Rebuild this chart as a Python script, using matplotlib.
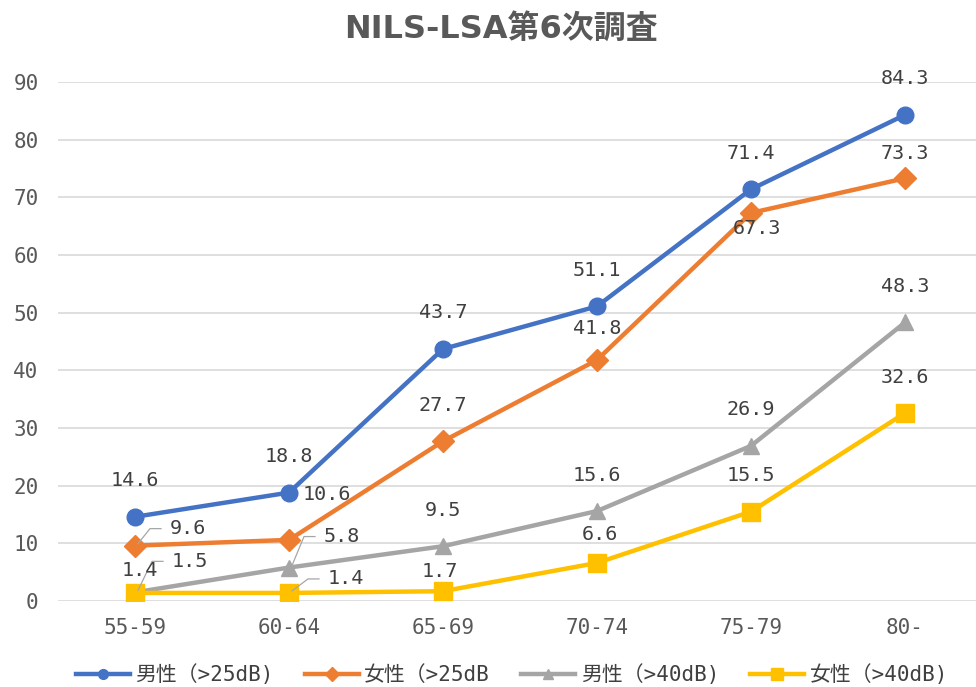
import matplotlib
matplotlib.use("Agg")
import matplotlib.pyplot as plt
import matplotlib.transforms as mtransforms
from matplotlib.lines import Line2D

plt.rcParams['font.family'] = ['DejaVu Sans Mono', 'Noto Sans CJK JP']

title = "NILS-LSA第6次調査"
categories = ["55-59", "60-64", "65-69", "70-74", "75-79", "80-"]
series_names = ["男性（>25dB)", "女性（>25dB", "男性（>40dB)", "女性（>40dB)"]
male_25 = [14.6, 18.8, 43.7, 51.1, 71.4, 84.3]
female_25 = [9.6, 10.6, 27.7, 41.8, 67.3, 73.3]
male_40 = [1.5, 5.8, 9.5, 15.6, 26.9, 48.3]
female_40 = [1.4, 1.4, 1.7, 6.6, 15.5, 32.6]
y_ticks = [0, 10, 20, 30, 40, 50, 60, 70, 80, 90]

colors = ["#4472C4", "#ED7D31", "#A5A5A5", "#FFC000"]
markers = ["o", "D", "^", "s"]
msizes = [12, 11, 12, 13.5]
legend_ms = [7, 7, 7, 9]

# label offsets in pixels (dx, dy) (dy positive = up), and leader line flags
above = (0, 36)
offsets = [
    [above, above, above, above, above, above],
    [(53, 17), (38, 45), above, (0, 31), (6, -16), (0, 25)],
    [(55, 31), (53, 31), above, above, above, above],
    [(5, 22), (57, 14), (-3, 20), (3, 28), above, above],
]
leaders = [
    [False] * 6,
    [True, False, False, False, False, False],
    [True, True, False, False, False, False],
    [False, True, False, False, False, False],
]

DPI = 100
fig = plt.figure(figsize=(9.76, 6.87), dpi=DPI)
ax = fig.add_axes([58 / 976, 86 / 687, 918 / 976, 519 / 687])
ax.set_xlim(-0.5, 5.461)
ax.set_ylim(0, 90)

data = [male_25, female_25, male_40, female_40]
x = list(range(len(categories)))
zorders = [6, 5, 3, 4]
for i, (vals, c, m, ms) in enumerate(zip(data, colors, markers, msizes)):
    ax.plot(x, vals, color=c, lw=3.2, marker=m, markersize=ms,
            markerfacecolor=c, markeredgecolor=c, zorder=zorders[i],
            solid_capstyle='round', solid_joinstyle='round')

for i, vals in enumerate(data):
    for j, v in enumerate(vals):
        dx, dy = offsets[i][j]
        ax.annotate(f"{v:.1f}", xy=(j, v), xytext=(dx, dy), textcoords='offset pixels',
                    ha='center', va='center', fontsize=14.5, color='#404040', zorder=10)
        if leaders[i][j]:
            tr = mtransforms.Affine2D() + mtransforms.ScaledTranslation(j, v, ax.transData)
            ax.add_line(Line2D([3, dx - 38, dx - 27], [2, dy, dy], transform=tr,
                               color='#A6A6A6', lw=0.9, zorder=9, clip_on=False))

ax.set_yticks(y_ticks)
ax.set_yticklabels([str(t) for t in y_ticks])
ax.set_xticks(x)
ax.set_xticklabels(categories)
ax.grid(axis='y', color='#D9D9D9', lw=1.2)
ax.set_axisbelow(True)
for s in ax.spines.values():
    s.set_visible(False)
ax.tick_params(axis='both', length=0, labelsize=15, colors='#595959')
ax.tick_params(axis='y', pad=14)
ax.tick_params(axis='x', pad=12)

fig.text(501 / 976, 1 - 29 / 687, title, ha='center', va='center', fontsize=23,
         fontweight='bold', color='#595959', family=['DejaVu Sans', 'Noto Sans CJK JP'])

handles = [Line2D([], [], color=c, lw=3.2, marker=m, markersize=ms,
                  markerfacecolor=c, markeredgecolor=c)
           for c, m, ms in zip(colors, markers, legend_ms)]
fig.legend(handles=handles, labels=series_names, loc='center',
           bbox_to_anchor=(512 / 976, 12 / 687), ncol=4,
           frameon=False, fontsize=15, handlelength=2.6, columnspacing=1.5,
           handletextpad=0.25, labelcolor='#404040')

fig.savefig("out.png", dpi=DPI)
